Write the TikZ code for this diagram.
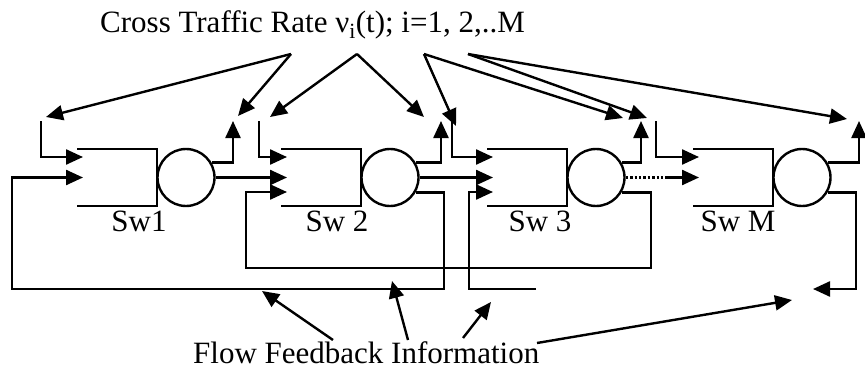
\documentclass[tikz,border=0pt]{standalone}
\usepackage{fontspec}
\setmainfont{Liberation Serif}
\usepackage{tikz}
\usetikzlibrary{arrows.meta}

\tikzset{
  wire/.style={line width=2.4pt},
  arr/.style={wire,-{Triangle[length=17pt,width=15pt]}},
  server/.style={draw,circle,line width=2.4pt,minimum size=57pt,inner sep=0pt},
  swlabel/.style={anchor=base,inner sep=0pt},
  txt/.style={anchor=base west,inner sep=0pt},
}

\begin{document}
\begin{tikzpicture}[x=1pt,y=-1pt,font=\fontsize{31}{36}\selectfont]
  \useasboundingbox (0,0) rectangle (865,369);

  % switches: queue and server
  \foreach \n/\xl in {1/77,2/281,3/487,4/693}{
    \coordinate (q\n) at (\xl,149);
    \draw[wire] (q\n) -- ++(80,0) -- ++(0,57) -- ++(-80,0);
    \node[server] (s\n) at (\xl+109,177.5) {};
    \coordinate (a\n) at (\xl+6,157);
    \coordinate (b\n) at (\xl+6,177.5);
    \coordinate (c\n) at (\xl+6,192);
  }
  \node[swlabel] (l1) at (139,231) {Sw1};
  \node[swlabel] (l2) at (337,231) {Sw 2};
  \node[swlabel] (l3) at (540,231) {Sw 3};
  \node[swlabel] (l4) at (738,231) {Sw M};

  % cross traffic in and out
  \foreach \n/\x in {1/41,2/259,3/452,4/656}{
    \coordinate (ct\n) at (\x,121);
    \draw[arr] (ct\n) |- (a\n);
  }
  \foreach \n/\x in {1/233,2/441,3/641,4/859}{
    \coordinate (up\n) at (\x,121);
    \draw[arr] (s\n.30) -| (up\n);
  }

  % flow between switches
  \draw[arr] (s1.east) -- (b2);
  \draw[arr] (s2.east) -- (b3);
  \coordinate (dt) at (667,177.5);
  \draw[wire,dotted] (s3.east) -- (dt);
  \draw[arr] (dt) -- (b4);

  % feedback loops
  \coordinate (k1) at (12,289);
  \coordinate (k2) at (444,289);
  \coordinate (k3) at (651,268);
  \coordinate (j2) at (246,268);
  \coordinate (e3) at (536,289);
  \coordinate (j3) at (469,289);
  \coordinate (k4) at (856,289);
  \coordinate (e4) at (813,289);
  \draw[arr] (s2.-30) -| (k2) -- (k1) |- (b1);
  \draw[arr] (s3.-30) -| (k3) -- (j2) |- (c2);
  \draw[arr] (e3) -- (j3) |- (c3);
  \draw[arr] (s4.-30) -| (k4) -- (e4);

  % cross traffic label
  \node[txt] (rate) at (100,33) {Cross Traffic Rate ν\textsubscript{i}(t); i=1, 2,..M};
  \coordinate (oA) at (291,54);
  \coordinate (oB) at (357,54);
  \coordinate (oC) at (424,54);
  \coordinate (oD) at (468,54);
  \coordinate (t1) at (46,117);
  \coordinate (t2) at (238,116);
  \coordinate (t3) at (270,117);
  \coordinate (t4) at (424,117);
  \coordinate (t5) at (456,126);
  \coordinate (t6) at (623,118);
  \coordinate (t7) at (647,118);
  \coordinate (t8) at (847,119);
  \draw[arr] (oA) -- (t1);
  \draw[arr] (oA) -- (t2);
  \draw[arr] (oB) -- (t3);
  \draw[arr] (oB) -- (t4);
  \draw[arr] (oC) -- (t5);
  \draw[arr] (oC) -- (t6);
  \draw[arr] (oD) -- (t7);
  \draw[arr] (oD) -- (t8);

  % feedback label
  \node[txt] (info) at (193,363) {Flow Feedback Information};
  \coordinate (f1) at (333,340);
  \coordinate (f2) at (408,340);
  \coordinate (f3) at (463,338);
  \coordinate (f4) at (537,343);
  \coordinate (g1) at (262,291);
  \coordinate (g2) at (392,281);
  \coordinate (g3) at (491,302);
  \coordinate (g4) at (792,300);
  \draw[arr] (f1) -- (g1);
  \draw[arr] (f2) -- (g2);
  \draw[arr] (f3) -- (g3);
  \draw[arr] (f4) -- (g4);
\end{tikzpicture}
\end{document}
